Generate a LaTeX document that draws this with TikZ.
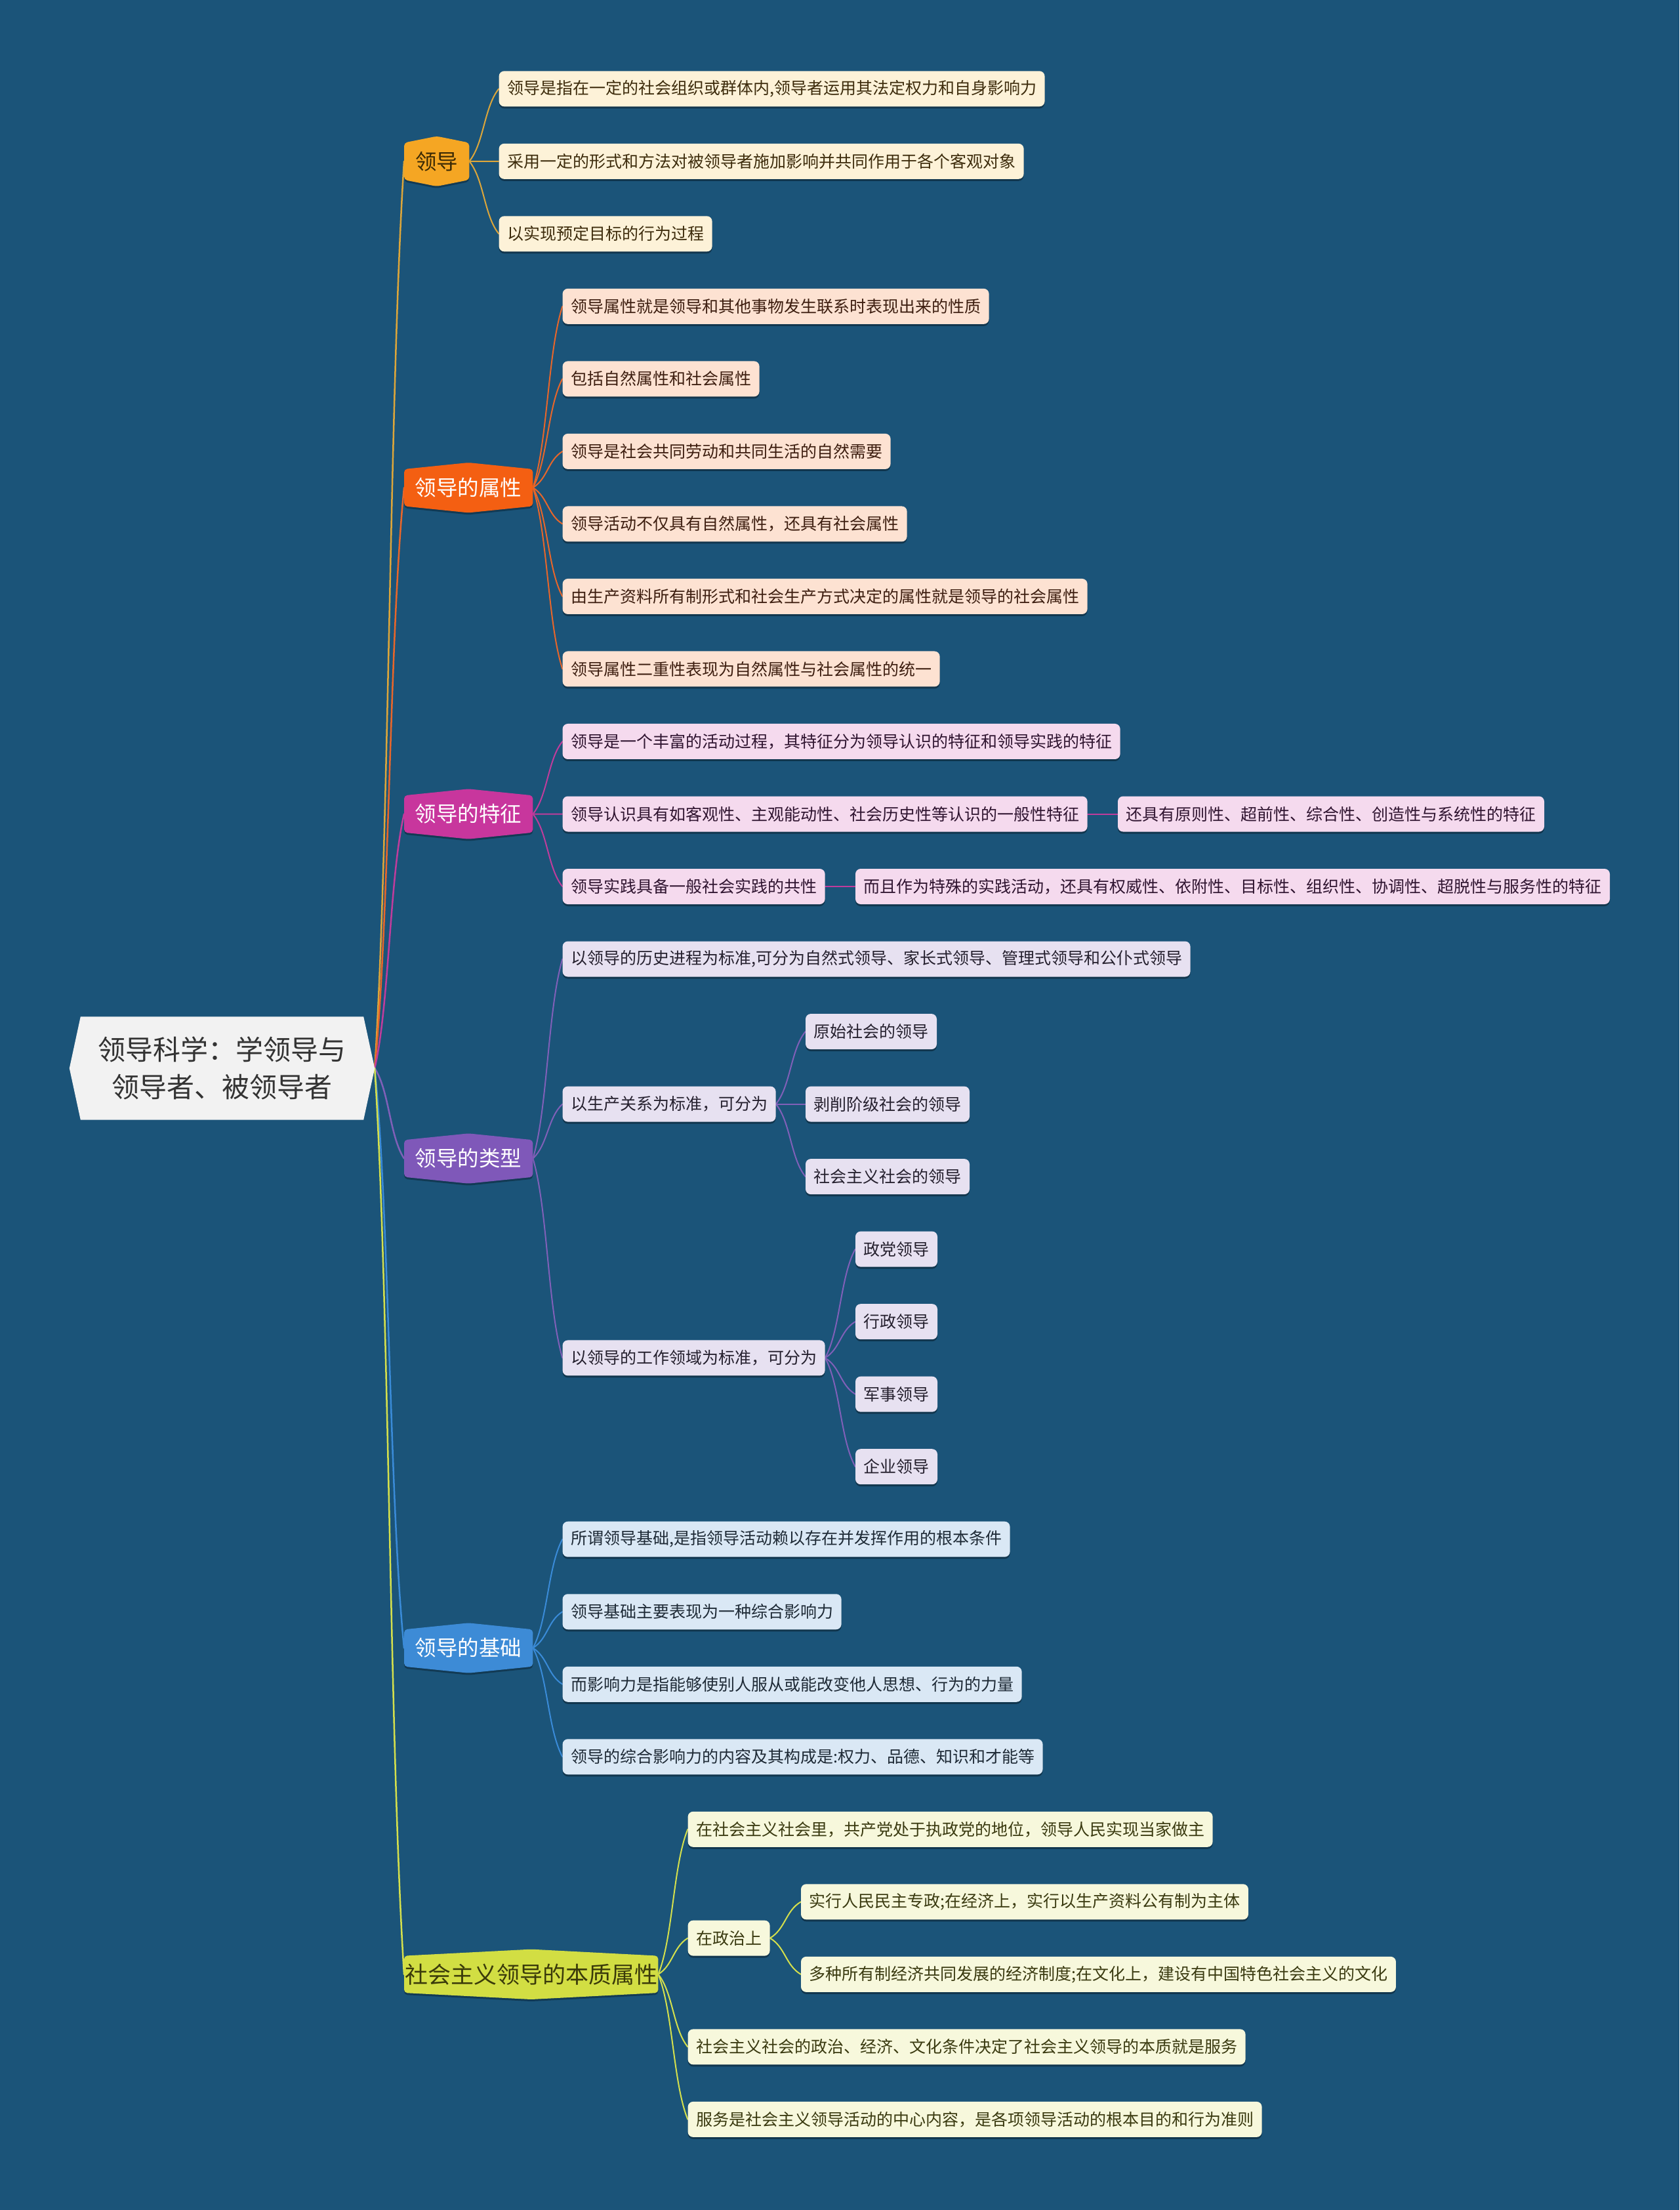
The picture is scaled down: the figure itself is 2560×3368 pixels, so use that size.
\documentclass[tikz,border=0pt]{standalone}
\usepackage{fontspec}
\setmainfont{Noto Sans CJK SC}
\usetikzlibrary{calc,shadows}
\definecolor{bgc}{HTML}{1B5479}
\definecolor{rootfill}{HTML}{F2F2F2}
\definecolor{roottext}{HTML}{333333}
% branch colours: node fill, line, node text, leaf fill, leaf text
\definecolor{nA}{HTML}{F5A623}\definecolor{lnA}{HTML}{DDA63A}\definecolor{tA}{HTML}{3B2A05}\definecolor{fA}{HTML}{FDF2D8}\definecolor{ftA}{HTML}{3D2C0C}
\definecolor{nB}{HTML}{F45F12}\definecolor{lnB}{HTML}{E8662A}\definecolor{tB}{HTML}{FFFFFF}\definecolor{fB}{HTML}{FDE2D2}\definecolor{ftB}{HTML}{3D1E10}
\definecolor{nC}{HTML}{C8369D}\definecolor{lnC}{HTML}{C03C9C}\definecolor{tC}{HTML}{FFFFFF}\definecolor{fC}{HTML}{F5DAEE}\definecolor{ftC}{HTML}{2F1430}
\definecolor{nD}{HTML}{7F58B9}\definecolor{lnD}{HTML}{8060B8}\definecolor{tD}{HTML}{FFFFFF}\definecolor{fD}{HTML}{E7E1F1}\definecolor{ftD}{HTML}{25202E}
\definecolor{nE}{HTML}{3D8BD6}\definecolor{lnE}{HTML}{3A8BD8}\definecolor{tE}{HTML}{FFFFFF}\definecolor{fE}{HTML}{DAE8F5}\definecolor{ftE}{HTML}{1E2A36}
\definecolor{nF}{HTML}{D2DE43}\definecolor{lnF}{HTML}{D5E04C}\definecolor{tF}{HTML}{3A3A0A}\definecolor{fF}{HTML}{F7F8DC}\definecolor{ftF}{HTML}{3A3A10}
\pgfdeclarelayer{background}
\pgfdeclarelayer{edges}
\pgfdeclarelayer{shapes}
\pgfsetlayers{background,edges,shapes,main}
\tikzset{
  rootn/.style={minimum width=431pt, minimum height=157pt, inner sep=0pt, align=center,
    font=\fontsize{42}{57}\selectfont, text=roottext},
  lone/.style={anchor=west, minimum height=56pt, inner sep=0pt, font=\fontsize{32.5}{36}\selectfont},
  leaf/.style={anchor=west, minimum height=54pt, inner xsep=12.5pt, inner ysep=0pt,
    rounded corners=8pt, font=\fontsize{25}{30}\selectfont,
    drop shadow={shadow xshift=0pt, shadow yshift=-3pt, opacity=.35, fill=black}},
  lfA/.style={leaf, fill=fA, text=ftA},
  lfB/.style={leaf, fill=fB, text=ftB},
  lfC/.style={leaf, fill=fC, text=ftC},
  lfD/.style={leaf, fill=fD, text=ftD},
  lfE/.style={leaf, fill=fE, text=ftE},
  lfF/.style={leaf, fill=fF, text=ftF},
  edgezero/.style={line width=2.5pt, line cap=round},
  edgeone/.style={line width=2pt, line cap=round},
}
\newcommand\conn[3]{%
  \draw[#1] let \p1=(#2), \p2=(#3) in (\p1) .. controls ({0.5*\x1+0.5*\x2},{0.75*\y1+0.25*\y2}) and ({0.5*\x1+0.5*\x2},{0.25*\y1+0.75*\y2}) .. (\p2);}
\newcommand\hexa[2]{%
  \begin{pgfonlayer}{shapes}
  \begin{scope}[transform canvas={yshift=-3pt}]
  \fill[black,opacity=.3,rounded corners=5pt] (#1.south west) -- (#1.north west) -- ([yshift=10pt]#1.north) -- (#1.north east) -- (#1.south east) -- ([yshift=-10pt]#1.south) -- cycle;
  \end{scope}
  \fill[#2,rounded corners=5pt] (#1.south west) -- (#1.north west) -- ([yshift=10pt]#1.north) -- (#1.north east) -- (#1.south east) -- ([yshift=-10pt]#1.south) -- cycle;
  \end{pgfonlayer}}
\begin{document}
\begin{tikzpicture}[x=1pt,y=-1pt]
\useasboundingbox (0,0) rectangle (2560,3368);
\begin{pgfonlayer}{background}
\fill[bgc] (0,0) rectangle (2560,3368);
\end{pgfonlayer}
\foreach \i in {0,...,28} \coordinate (r\i) at (0,{135.3+110.52*\i});

% root
\node[rootn] (root) at (338.5,1628) {领导科学：学领导与\\领导者、被领导者};
\begin{pgfonlayer}{shapes}
\fill[rootfill] (root.south west) -- ([xshift=-17pt]root.west) -- (root.north west) -- (root.north east) -- ([xshift=17pt]root.east) -- (root.south east) -- cycle;
\end{pgfonlayer}
\coordinate (rp) at ([xshift=17pt]root.east);

% level 1
\node[lone, minimum width=99pt, text=tA] (A) at (616,245.8) {领导};
\hexa{A}{nA}
\node[lone, minimum width=196pt, text=tB] (B) at (616,743.2) {领导的属性};
\hexa{B}{nB}
\node[lone, minimum width=196pt, text=tC] (C) at (616,1240.5) {领导的特征};
\hexa{C}{nC}
\node[lone, minimum width=196pt, text=tD] (D) at (616,1765.5) {领导的类型};
\hexa{D}{nD}
\node[lone, minimum width=196pt, text=tE] (E) at (616,2511.5) {领导的基础};
\hexa{E}{nE}
\node[lone, minimum width=387pt, font=\fontsize{35}{38}\selectfont, text=tF] (F) at (616,3008.8) {社会主义领导的本质属性};
\hexa{F}{nF}

\coordinate (xA) at ([xshift=45pt]A.east);
\coordinate (xB) at ([xshift=45pt]B.east);
\coordinate (xC) at ([xshift=45pt]C.east);
\coordinate (xD) at ([xshift=45pt]D.east);
\coordinate (xE) at ([xshift=45pt]E.east);
\coordinate (xF) at ([xshift=45pt]F.east);

% 领导
\node[lfA] (a1) at (xA |- r0) {领导是指在一定的社会组织或群体内,领导者运用其法定权力和自身影响力};
\node[lfA] (a2) at (xA |- r1) {采用一定的形式和方法对被领导者施加影响并共同作用于各个客观对象};
\node[lfA] (a3) at (xA |- r2) {以实现预定目标的行为过程};
% 属性
\node[lfB] (b1) at (xB |- r3) {领导属性就是领导和其他事物发生联系时表现出来的性质};
\node[lfB] (b2) at (xB |- r4) {包括自然属性和社会属性};
\node[lfB] (b3) at (xB |- r5) {领导是社会共同劳动和共同生活的自然需要};
\node[lfB] (b4) at (xB |- r6) {领导活动不仅具有自然属性，还具有社会属性};
\node[lfB] (b5) at (xB |- r7) {由生产资料所有制形式和社会生产方式决定的属性就是领导的社会属性};
\node[lfB] (b6) at (xB |- r8) {领导属性二重性表现为自然属性与社会属性的统一};
% 特征
\node[lfC] (c1) at (xC |- r9) {领导是一个丰富的活动过程，其特征分为领导认识的特征和领导实践的特征};
\node[lfC] (c2) at (xC |- r10) {领导认识具有如客观性、主观能动性、社会历史性等认识的一般性特征};
\node[lfC] (c3) at (xC |- r11) {领导实践具备一般社会实践的共性};
\coordinate (xc2) at ([xshift=46pt]c2.east);
\coordinate (xc3) at ([xshift=46pt]c3.east);
\node[lfC] (c2a) at (xc2) {还具有原则性、超前性、综合性、创造性与系统性的特征};
\node[lfC] (c3a) at (xc3) {而且作为特殊的实践活动，还具有权威性、依附性、目标性、组织性、协调性、超脱性与服务性的特征};
% 类型
\node[lfD] (d1) at (xD |- r12) {以领导的历史进程为标准,可分为自然式领导、家长式领导、管理式领导和公仆式领导};
\node[lfD] (d2) at (xD |- r14) {以生产关系为标准，可分为};
\coordinate (rd3) at (0,2069.4);
\node[lfD] (d3) at (xD |- rd3) {以领导的工作领域为标准，可分为};
\coordinate (xd2) at ([xshift=45pt]d2.east);
\coordinate (xd3) at ([xshift=46pt]d3.east);
\node[lfD] (d2a) at (xd2 |- r13) {原始社会的领导};
\node[lfD] (d2b) at (xd2 |- r14) {剥削阶级社会的领导};
\node[lfD] (d2c) at (xd2 |- r15) {社会主义社会的领导};
\node[lfD] (d3a) at (xd3 |- r16) {政党领导};
\node[lfD] (d3b) at (xd3 |- r17) {行政领导};
\node[lfD] (d3c) at (xd3 |- r18) {军事领导};
\node[lfD] (d3d) at (xd3 |- r19) {企业领导};
% 基础
\node[lfE] (e1) at (xE |- r20) {所谓领导基础,是指领导活动赖以存在并发挥作用的根本条件};
\node[lfE] (e2) at (xE |- r21) {领导基础主要表现为一种综合影响力};
\node[lfE] (e3) at (xE |- r22) {而影响力是指能够使别人服从或能改变他人思想、行为的力量};
\node[lfE] (e4) at (xE |- r23) {领导的综合影响力的内容及其构成是:权力、品德、知识和才能等};
% 社会主义
\node[lfF] (f1) at (xF |- r24) {在社会主义社会里，共产党处于执政党的地位，领导人民实现当家做主};
\coordinate (rf2) at (0,2953.6);
\node[lfF] (f2) at (xF |- rf2) {在政治上};
\coordinate (xf2) at ([xshift=47pt]f2.east);
\node[lfF] (f2a) at (xf2 |- r25) {实行人民民主专政;在经济上，实行以生产资料公有制为主体};
\node[lfF] (f2b) at (xf2 |- r26) {多种所有制经济共同发展的经济制度;在文化上，建设有中国特色社会主义的文化};
\node[lfF] (f3) at (xF |- r27) {社会主义社会的政治、经济、文化条件决定了社会主义领导的本质就是服务};
\node[lfF] (f4) at (xF |- r28) {服务是社会主义领导活动的中心内容，是各项领导活动的根本目的和行为准则};

% connectors
\begin{pgfonlayer}{edges}
\conn{edgezero,lnA}{rp}{A.west}
\conn{edgezero,lnB}{rp}{B.west}
\conn{edgezero,lnC}{rp}{C.west}
\conn{edgezero,lnD}{rp}{D.west}
\conn{edgezero,lnE}{rp}{E.west}
\conn{edgezero,lnF}{rp}{F.west}
\foreach \k in {a1,a2,a3} {\conn{edgeone,lnA}{A.east}{\k.west}}
\foreach \k in {b1,b2,b3,b4,b5,b6} {\conn{edgeone,lnB}{B.east}{\k.west}}
\foreach \k in {c1,c2,c3} {\conn{edgeone,lnC}{C.east}{\k.west}}
\conn{edgeone,lnC}{c2.east}{c2a.west}
\conn{edgeone,lnC}{c3.east}{c3a.west}
\foreach \k in {d1,d2,d3} {\conn{edgeone,lnD}{D.east}{\k.west}}
\foreach \k in {d2a,d2b,d2c} {\conn{edgeone,lnD}{d2.east}{\k.west}}
\foreach \k in {d3a,d3b,d3c,d3d} {\conn{edgeone,lnD}{d3.east}{\k.west}}
\foreach \k in {e1,e2,e3,e4} {\conn{edgeone,lnE}{E.east}{\k.west}}
\foreach \k in {f1,f2,f3,f4} {\conn{edgeone,lnF}{F.east}{\k.west}}
\foreach \k in {f2a,f2b} {\conn{edgeone,lnF}{f2.east}{\k.west}}
\end{pgfonlayer}
\end{tikzpicture}
\end{document}
